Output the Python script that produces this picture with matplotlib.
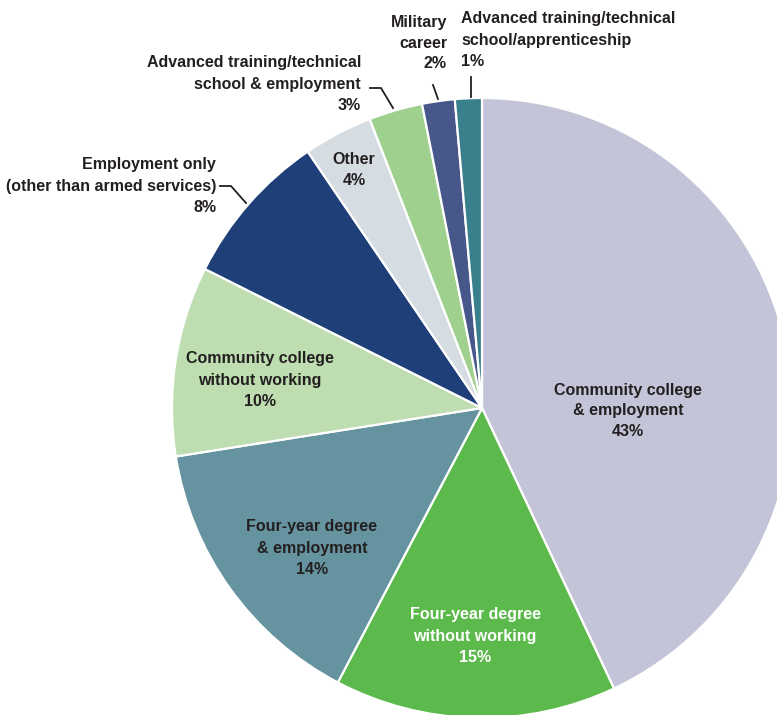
import matplotlib.pyplot as plt

# slice values (% of students), clockwise from 12 o'clock
categories = ['Community college\n& employment',
              'Four-year degree\nwithout working',
              'Four-year degree\n& employment',
              'Community college\nwithout working',
              'Employment only\n(other than armed services)',
              'Other',
              'Advanced training/technical\nschool & employment',
              'Military\ncareer',
              'Advanced training/technical\nschool/apprenticeship']
values = [43.0, 14.7, 14.8, 9.9, 8.1, 3.6, 2.8, 1.7, 1.4]
pct_labels = ['43%', '15%', '14%', '10%', '8%', '4%', '3%', '2%', '1%']
colors = ['#C4C4D8', '#5BBA4B', '#6693A0', '#BEDDB0', '#1F3F78',
          '#D5DCE2', '#A0D08E', '#475789', '#3A7F8C']

W, H = 777, 715
fig = plt.figure(figsize=(W / 100, H / 100), dpi=100)
ax = fig.add_axes([0, 0, 1, 1])

cx, cy, r = 482, 408, 310
# y axis is flipped, so counterclock=True draws clockwise on screen
ax.pie(values, colors=colors, startangle=-90, counterclock=True,
       center=(cx, cy), radius=r, frame=True,
       wedgeprops=dict(edgecolor='white', linewidth=1.6))
ax.set_xlim(0, W)
ax.set_ylim(H, 0)
ax.set_aspect('equal')
ax.axis('off')

font = dict(family='Liberation Sans', fontweight='bold', fontsize=11.5,
            linespacing=1.5)
dark = '#231F20'

def lab(i):
    return categories[i] + '\n' + pct_labels[i]

# labels inside the slices
ax.text(628, 411, lab(0), ha='center', va='center', color=dark, **font)
ax.text(475, 636, lab(1), ha='center', va='center', color='white', **font)
ax.text(312, 548, lab(2), ha='center', va='center', color=dark, **font)
ax.text(260, 380, lab(3), ha='center', va='center', color=dark, **font)
ax.text(354, 170, lab(5), ha='center', va='center', color=dark, **font)

# labels outside with leader lines
ax.text(216, 186, lab(4), ha='right', va='center', multialignment='right',
        color=dark, **font)
ax.plot([220, 231, 246], [186, 186, 203], color=dark, lw=1.3)

ax.text(361, 84, lab(6), ha='right', va='center', multialignment='right',
        color=dark, **font)
ax.plot([370, 381, 393], [88, 88, 108], color=dark, lw=1.3)

ax.text(447, 43, lab(7), ha='right', va='center', multialignment='right',
        color=dark, **font)
ax.plot([433, 438], [85, 99], color=dark, lw=1.3)

ax.text(461, 40, lab(8), ha='left', va='center', multialignment='left',
        color=dark, **font)
ax.plot([471, 471], [77, 97], color=dark, lw=1.3)

plt.savefig('out.png', dpi=100)
